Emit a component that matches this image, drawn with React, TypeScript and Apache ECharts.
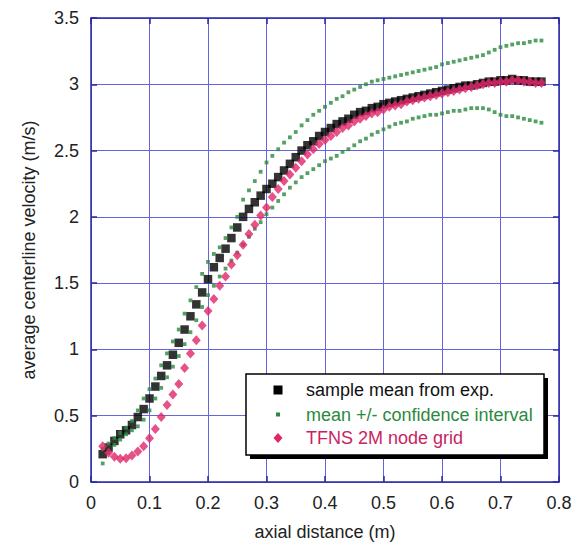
import React, { useEffect, useRef } from "react";
import * as echarts from "echarts";

const xPositions = [
  0.02, 0.03, 0.04, 0.05, 0.06, 0.07, 0.08, 0.09, 0.1, 0.11, 0.12, 0.13, 0.14, 0.15, 0.16, 0.17,
  0.18, 0.19, 0.2, 0.21, 0.22, 0.23, 0.24, 0.25, 0.26, 0.27, 0.28, 0.29, 0.3, 0.31, 0.32, 0.33,
  0.34, 0.35, 0.36, 0.37, 0.38, 0.39, 0.4, 0.41, 0.42, 0.43, 0.44, 0.45, 0.46, 0.47, 0.48, 0.49,
  0.5, 0.51, 0.52, 0.53, 0.54, 0.55, 0.56, 0.57, 0.58, 0.59, 0.6, 0.61, 0.62, 0.63, 0.64, 0.65,
  0.66, 0.67, 0.68, 0.69, 0.7, 0.71, 0.72, 0.73, 0.74, 0.75, 0.76, 0.77,
];

const sampleMean = [
  0.21, 0.26, 0.31, 0.36, 0.39, 0.43, 0.49, 0.55, 0.63, 0.72, 0.8, 0.88, 0.96, 1.05, 1.15, 1.25,
  1.34, 1.43, 1.53, 1.62, 1.69, 1.76, 1.84, 1.92, 2.0, 2.06, 2.11, 2.16, 2.21, 2.25, 2.3, 2.35,
  2.4, 2.45, 2.5, 2.54, 2.57, 2.61, 2.64, 2.67, 2.7, 2.72, 2.74, 2.77, 2.79, 2.8, 2.82, 2.83,
  2.85, 2.86, 2.87, 2.88, 2.89, 2.9, 2.91, 2.92, 2.93, 2.94, 2.95, 2.96, 2.97, 2.98, 2.99, 2.99,
  3.0, 3.01, 3.02, 3.02, 3.03, 3.03, 3.04, 3.03, 3.03, 3.02, 3.02, 3.02,
];

const ciUpper = [
  0.25, 0.29, 0.33, 0.37, 0.41, 0.46, 0.54, 0.63, 0.7, 0.78, 0.88, 0.97, 1.06, 1.15, 1.27, 1.37,
  1.47, 1.57, 1.66, 1.72, 1.77, 1.84, 1.92, 2.0, 2.13, 2.2, 2.27, 2.34, 2.41, 2.46, 2.51, 2.56,
  2.6, 2.64, 2.69, 2.73, 2.77, 2.8, 2.83, 2.86, 2.89, 2.91, 2.94, 2.96, 2.98, 3.0, 3.02, 3.03,
  3.04, 3.05, 3.06, 3.07, 3.08, 3.09, 3.1, 3.11, 3.12, 3.13, 3.15, 3.16, 3.17, 3.18, 3.19, 3.2,
  3.21, 3.22, 3.24, 3.26, 3.28, 3.29, 3.3, 3.31, 3.31, 3.32, 3.33, 3.33,
];

const ciLower = [
  0.14, 0.22, 0.28, 0.32, 0.36, 0.39, 0.42, 0.47, 0.54, 0.63, 0.71, 0.79, 0.87, 0.95, 1.04, 1.13,
  1.22, 1.32, 1.41, 1.48, 1.55, 1.61, 1.67, 1.73, 1.79, 1.85, 1.91, 1.96, 2.02, 2.07, 2.12, 2.17,
  2.22, 2.26, 2.3, 2.33, 2.36, 2.39, 2.42, 2.44, 2.46, 2.49, 2.51, 2.54, 2.57, 2.59, 2.62, 2.64,
  2.66, 2.68, 2.7, 2.71, 2.72, 2.74, 2.75, 2.76, 2.77, 2.77, 2.78, 2.79, 2.8, 2.8, 2.81, 2.82,
  2.82, 2.82, 2.81, 2.79, 2.77, 2.76, 2.76, 2.75, 2.74, 2.73, 2.72, 2.71,
];

const tfns = [
  0.27, 0.22, 0.19, 0.175, 0.18, 0.2, 0.23, 0.27, 0.33, 0.4, 0.49, 0.58, 0.66, 0.74, 0.86, 0.97,
  1.07, 1.18, 1.29, 1.38, 1.48, 1.55, 1.64, 1.71, 1.79, 1.87, 1.94, 2.01, 2.07, 2.15, 2.21, 2.27,
  2.32, 2.37, 2.42, 2.47, 2.51, 2.55, 2.58, 2.61, 2.64, 2.67, 2.69, 2.72, 2.74, 2.76, 2.78, 2.79,
  2.81, 2.83, 2.84, 2.85, 2.87, 2.88, 2.89, 2.9, 2.91, 2.92, 2.93, 2.94, 2.95, 2.96, 2.97, 2.98,
  2.99, 3.0, 3.01, 3.01, 3.02, 3.02, 3.03, 3.03, 3.02, 3.02, 3.01, 3.01,
];

const legendNames = ["sample mean from exp.", "mean +/- confidence interval", "TFNS 2M node grid"];

const FONT = "'Liberation Sans', Arial, Helvetica, sans-serif";
const BLACK = "#000000";
const GREEN = "#2b8a3e";
const PINK = "#e0266a";
const GRID_BLUE = "#6565e0";
const AXIS_BLUE = "#2a2aa6";

export default function App() {
  const ref = useRef<HTMLDivElement>(null);

  useEffect(() => {
    if (!ref.current) return;
    const chart = echarts.init(ref.current, undefined, { renderer: "svg" });
    const pair = (ys: number[]) => xPositions.map((x, i) => [x, ys[i]]);

    const legendLeft = 246;
    const legendTop = 374;
    const legendW = 298;
    const legendH = 81;
    const rowY = [390, 414.5, 438];
    const markX = 278;
    const textX = 306;
    const Z = 100;

    chart.setOption({
      animation: false,
      backgroundColor: "#ffffff",
      grid: { left: 91, right: 18, top: 18, bottom: 60, containLabel: false },
      xAxis: [
        {
          type: "value",
          min: 0,
          max: 0.8,
          interval: 0.1,
          position: "bottom",
          name: "axial distance (m)",
          nameLocation: "middle",
          nameGap: 41,
          nameTextStyle: { fontFamily: FONT, fontSize: 18, color: "#222" },
          axisLine: { show: true, onZero: false, lineStyle: { color: AXIS_BLUE, width: 1.5 } },
          axisTick: { show: true, inside: true, length: 6, lineStyle: { color: AXIS_BLUE, width: 1.5 } },
          axisLabel: { fontFamily: FONT, fontSize: 18, color: "#222", margin: 12 },
          splitLine: { show: true, lineStyle: { color: GRID_BLUE, width: 1 } },
        },
        {
          type: "value",
          min: 0,
          max: 0.8,
          interval: 0.1,
          position: "top",
          axisLine: { show: true, onZero: false, lineStyle: { color: AXIS_BLUE, width: 1.5 } },
          axisTick: { show: true, inside: true, length: 6, lineStyle: { color: AXIS_BLUE, width: 1.5 } },
          axisLabel: { show: false },
          splitLine: { show: false },
        },
      ],
      yAxis: [
        {
          type: "value",
          min: 0,
          max: 3.5,
          interval: 0.5,
          position: "left",
          name: "average centerline velocity (m/s)",
          nameLocation: "middle",
          nameGap: 53,
          nameRotate: 90,
          nameTextStyle: { fontFamily: FONT, fontSize: 18, color: "#222" },
          axisLine: { show: true, onZero: false, lineStyle: { color: AXIS_BLUE, width: 1.5 } },
          axisTick: { show: true, inside: true, length: 6, lineStyle: { color: AXIS_BLUE, width: 1.5 } },
          axisLabel: { fontFamily: FONT, fontSize: 18, color: "#222", margin: 12 },
          splitLine: { show: true, lineStyle: { color: GRID_BLUE, width: 1 } },
        },
        {
          type: "value",
          min: 0,
          max: 3.5,
          interval: 0.5,
          position: "right",
          axisLine: { show: true, onZero: false, lineStyle: { color: AXIS_BLUE, width: 1.5 } },
          axisTick: { show: true, inside: true, length: 6, lineStyle: { color: AXIS_BLUE, width: 1.5 } },
          axisLabel: { show: false },
          splitLine: { show: false },
        },
      ],
      series: [
        {
          name: legendNames[0],
          type: "scatter",
          data: pair(sampleMean),
          symbol: "rect",
          symbolSize: 8.5,
          itemStyle: { color: BLACK },
          z: 3,
        },
        {
          name: legendNames[1] + " upper",
          type: "scatter",
          data: pair(ciUpper),
          symbol: "rect",
          symbolSize: 3.8,
          itemStyle: { color: GREEN },
          z: 4,
        },
        {
          name: legendNames[1] + " lower",
          type: "scatter",
          data: pair(ciLower),
          symbol: "rect",
          symbolSize: 3.8,
          itemStyle: { color: GREEN },
          z: 4,
        },
        {
          name: legendNames[2],
          type: "scatter",
          data: pair(tfns),
          symbol: "diamond",
          symbolSize: [9, 10],
          itemStyle: { color: PINK },
          z: 5,
        },
      ],
      graphic: [
        {
          type: "rect",
          z: Z,
          shape: { x: legendLeft + 4, y: legendTop + 4, width: legendW, height: legendH },
          style: { fill: "#000" },
        },
        {
          type: "rect",
          z: Z + 1,
          shape: { x: legendLeft, y: legendTop, width: legendW, height: legendH },
          style: { fill: "#fff", stroke: "#000", lineWidth: 1.5 },
        },
        {
          type: "rect",
          z: Z + 2,
          shape: { x: markX - 4.5, y: rowY[0] - 4.5, width: 9, height: 9 },
          style: { fill: BLACK },
        },
        {
          type: "rect",
          z: Z + 2,
          shape: { x: markX - 2, y: rowY[1] - 2, width: 4, height: 4 },
          style: { fill: GREEN },
        },
        {
          type: "polygon",
          z: Z + 2,
          shape: {
            points: [
              [markX, rowY[2] - 5],
              [markX + 4.5, rowY[2]],
              [markX, rowY[2] + 5],
              [markX - 4.5, rowY[2]],
            ],
          },
          style: { fill: PINK },
        },
        {
          type: "text",
          z: Z + 2,
          x: textX,
          y: rowY[0],
          style: { text: legendNames[0], fill: "#111", font: `18px ${FONT}`, verticalAlign: "middle" },
        },
        {
          type: "text",
          z: Z + 2,
          x: textX,
          y: rowY[1],
          style: { text: legendNames[1], fill: GREEN, font: `18px ${FONT}`, verticalAlign: "middle" },
        },
        {
          type: "text",
          z: Z + 2,
          x: textX,
          y: rowY[2],
          style: { text: legendNames[2], fill: "#c8245f", font: `18px ${FONT}`, verticalAlign: "middle" },
        },
      ],
    });

    return () => chart.dispose();
  }, []);

  return <div ref={ref} style={{ width: 577, height: 546, position: "absolute", left: 0, top: 0 }} />;
}
